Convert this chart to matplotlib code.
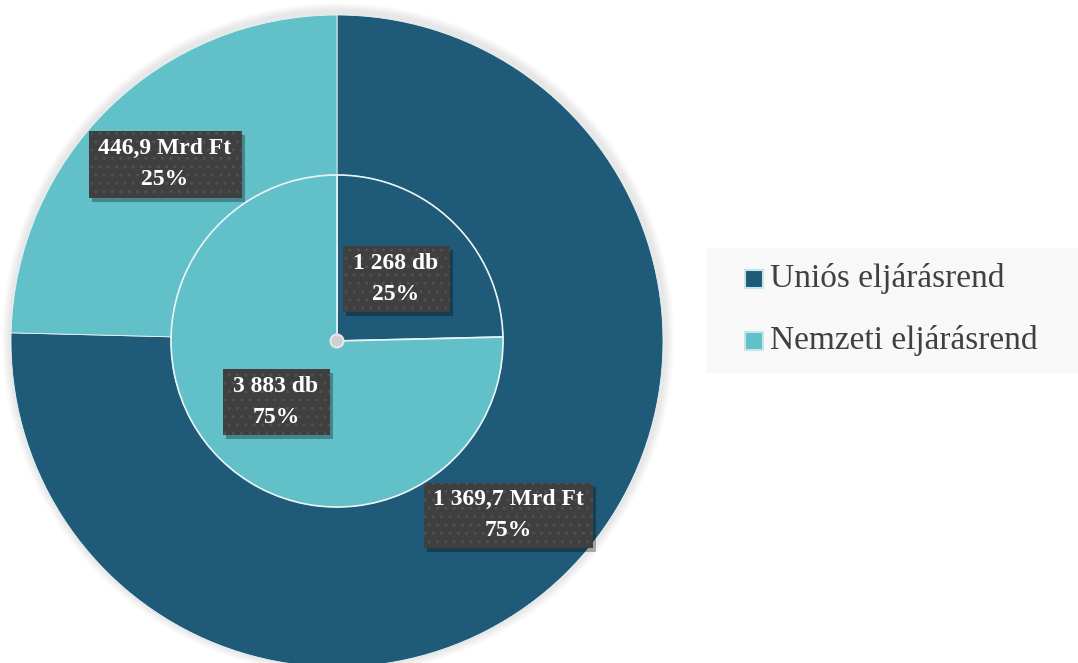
import matplotlib.pyplot as plt
from matplotlib.patches import Rectangle, Circle

# adatok
kategoriak = ['Uniós eljárásrend', 'Nemzeti eljárásrend']
ertek_mrd = [1369.7, 446.9]      # Mrd Ft
darab = [1268, 3883]             # db
szinek = ['#1f5a78', '#62c1c8']

W, H = 1078, 663
cx, cy = 337, H - 341
r_kulso, r_belso = 326, 166


def hu_szam(x, tized=False):
    if tized:
        s = '{:,.1f}'.format(x)
    else:
        s = '{:,}'.format(int(x))
    return s.replace(',', ' ').replace('.', ',')


fig = plt.figure(figsize=(W / 100, H / 100), dpi=100)
ax = fig.add_axes([0, 0, 1, 1])
ax.set_xlim(0, W)
ax.set_ylim(0, H)
ax.axis('off')

# halvany arnyek a gyuru korul
for i in range(8):
    ax.add_patch(Circle((cx + 1, cy + 2), r_kulso + 10 - i, color='#000000',
                        alpha=0.012, lw=0, zorder=0))

# kulso gyuru: osszeg
ax.pie(ertek_mrd, colors=szinek, startangle=90, counterclock=False,
       center=(cx, cy), radius=r_kulso,
       wedgeprops=dict(width=r_kulso - r_belso, edgecolor='#e8f4f6', linewidth=0.6))
# belso kor: darabszam
ax.pie(darab, colors=szinek, startangle=90, counterclock=False,
       center=(cx, cy), radius=r_belso,
       wedgeprops=dict(edgecolor='#e8f4f6', linewidth=1.2))
ax.set_xlim(0, W)
ax.set_ylim(0, H)
ax.set_aspect('auto')

ax.add_patch(Circle((cx, cy), 6.5, facecolor='#cfcfcf', edgecolor='#e6e6e6',
                    lw=1.5, zorder=5))


def cimke(x, y, w, h, szoveg):
    y = H - y
    ax.add_patch(Rectangle((x - w / 2 + 3, y - h / 2 - 4), w, h, facecolor='#000000',
                           alpha=0.3, lw=0, zorder=6))
    ax.add_patch(Rectangle((x - w / 2, y - h / 2), w, h, facecolor='#3f3f3f',
                           edgecolor='#505050', hatch='..', lw=0, zorder=7))
    ax.text(x, y, szoveg, ha='center', va='center', color='white',
            fontsize=17, fontweight='bold', family='Liberation Serif',
            linespacing=1.6, zorder=8)


ossz_mrd = sum(ertek_mrd)
ossz_db = sum(darab)
cimke(508, 515, 169, 65, '{} Mrd Ft\n{:.0f}%'.format(hu_szam(ertek_mrd[0], True), 100 * ertek_mrd[0] / ossz_mrd))
cimke(165, 164, 153, 67, '{} Mrd Ft\n{:.0f}%'.format(hu_szam(ertek_mrd[1], True), 100 * ertek_mrd[1] / ossz_mrd))
cimke(396, 279, 107, 66, '{} db\n{:.0f}%'.format(hu_szam(darab[0]), 100 * darab[0] / ossz_db))
cimke(276, 402, 107, 66, '{} db\n{:.0f}%'.format(hu_szam(darab[1]), 100 * darab[1] / ossz_db))

# jelmagyarazat
ax.add_patch(Rectangle((706, H - 373), W - 706, 125, facecolor='#f8f8f8', lw=0, zorder=1))
for i, (nev, szin) in enumerate(zip(kategoriak, szinek)):
    yk = H - (279 + 62 * i)
    ax.add_patch(Rectangle((745, yk - 9), 18, 18, facecolor=szin, edgecolor='#c4e6ea',
                           lw=1.5, zorder=2))
    ax.text(770, yk + 1, nev, ha='left', va='center', color='#404040', fontsize=24,
            family='Liberation Serif', zorder=2)

plt.savefig('out.png', dpi=100)
